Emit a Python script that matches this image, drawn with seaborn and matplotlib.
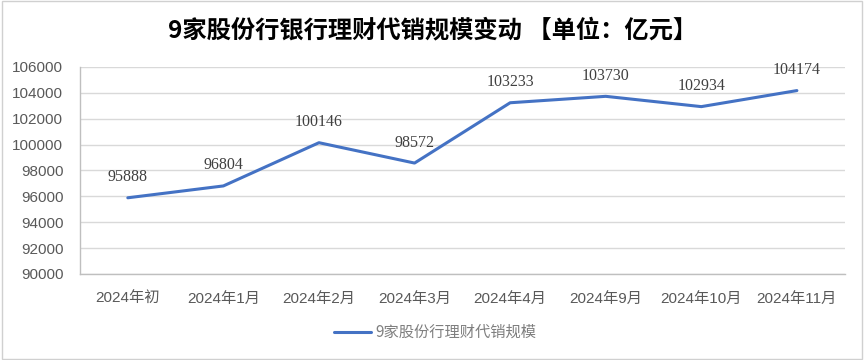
import matplotlib
matplotlib.use("Agg")
import matplotlib.pyplot as plt
import seaborn as sns
import pandas as pd
from matplotlib.patches import Rectangle

periods = ["2024年初", "2024年1月", "2024年2月", "2024年3月",
           "2024年4月", "2024年9月", "2024年10月", "2024年11月"]
scale = [95888, 96804, 100146, 98572, 103233, 103730, 102934, 104174]
series_name = "9家股份行理财代销规模"
title = "9家股份行银行理财代销规模变动 【单位：亿元】"
y_ticks = list(range(90000, 106001, 2000))

df = pd.DataFrame({"period": periods, "value": scale, "series": series_name})

sns.set_theme(style="white")
plt.rcParams['font.family'] = ['Liberation Sans', 'Noto Sans CJK SC', 'DejaVu Sans']

fig = plt.figure(figsize=(8.65, 3.6), dpi=100)
ax = fig.add_axes([0.0925, 0.239, 0.884, 0.575])

sns.lineplot(data=df, x="period", y="value", hue="series", sort=False,
             palette=["#4472C4"], linewidth=2.2, ax=ax)

ax.set_xlim(-0.5, len(periods) - 0.5)
ax.set_ylim(90000, 106000)
ax.set_yticks(y_ticks)
ax.set_yticklabels([str(v) for v in y_ticks])
ax.yaxis.grid(True, color="#d9d9d9", linewidth=1)
ax.set_axisbelow(True)
ax.set_xlabel("")
ax.set_ylabel("")
ax.tick_params(axis="both", length=0, labelsize=11, colors="#595959")
ax.tick_params(axis="x", pad=13)
ax.tick_params(axis="y", pad=12)

for s in ["top", "right"]:
    ax.spines[s].set_visible(False)
ax.spines["left"].set_color("#bfbfbf")
ax.spines["bottom"].set_color("#bfbfbf")
ax.spines["left"].set_linewidth(1)
ax.spines["bottom"].set_linewidth(1)

for i, v in enumerate(scale):
    ax.annotate(str(v), (i, v), xytext=(0, 9), textcoords="offset points",
                ha="center", va="bottom", fontsize=11.5, color="#404040",
                family=["Liberation Serif", "DejaVu Serif"])

ax.legend(loc="upper center", bbox_to_anchor=(0.465, -0.175), frameon=False,
          handlelength=2.4, handletextpad=0.3, labelcolor="#7f7f7f",
          prop={"family": ["Noto Sans CJK SC", "DejaVu Sans"], "size": 11})

fig.text(0.5, 0.915, title, ha="center", va="center", fontsize=17.5,
         fontweight="bold", color="black",
         family=["Noto Sans CJK SC", "DejaVu Sans"])

fig.patches.append(Rectangle((0.002, 0.003), 0.995, 0.994, transform=fig.transFigure,
                             fill=False, edgecolor="#d0d0d0", linewidth=1))

fig.savefig("out.png", dpi=100)
